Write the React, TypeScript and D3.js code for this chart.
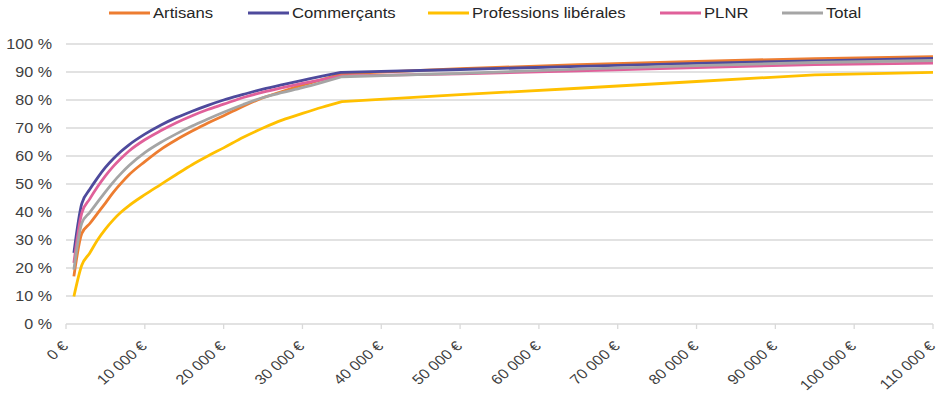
import * as d3 from "d3";

const revenus = [1000, 2000, 3000, 4000, 5000, 6000, 7000, 8000, 10000, 12000, 14000, 16000, 18000, 20000, 22500, 25000, 27500, 30000, 32500, 35000, 50000, 65000, 80000, 95000, 110000];

const artisans = [17.0, 32.3, 35.8, 39.5, 43.2, 47.0, 50.3, 53.3, 58.0, 62.3, 65.8, 68.9, 71.8, 74.4, 77.8, 80.8, 83.1, 85.3, 87.3, 89.3, 91.2, 92.6, 93.8, 94.8, 95.5];
const commercants = [25.4, 43.0, 48.0, 52.2, 55.9, 59.0, 61.7, 64.0, 67.8, 71.0, 73.7, 76.0, 78.1, 80.0, 82.0, 83.9, 85.5, 87.0, 88.5, 89.9, 90.9, 92.0, 93.1, 94.0, 94.9];
const liberales = [9.8, 21.0, 25.3, 30.0, 33.9, 37.2, 40.0, 42.3, 46.2, 49.8, 53.4, 56.9, 60.0, 62.9, 66.7, 70.0, 72.9, 75.2, 77.4, 79.4, 81.9, 84.2, 86.6, 89.0, 89.9];
const plnr = [21.8, 39.6, 44.6, 49.0, 52.9, 56.3, 59.2, 61.8, 65.8, 69.0, 71.9, 74.4, 76.6, 78.5, 80.9, 82.8, 84.4, 85.9, 87.3, 88.6, 89.3, 90.4, 91.6, 92.6, 93.2];
const total = [19.4, 36.0, 39.8, 43.5, 47.2, 50.7, 53.8, 56.6, 61.2, 64.8, 67.9, 70.7, 73.2, 75.6, 78.4, 80.9, 82.7, 84.4, 86.3, 88.3, 89.5, 91.0, 92.3, 93.4, 94.1];

const seriesNames = ["Artisans", "Commerçants", "Professions libérales", "PLNR", "Total"];
const seriesColors = ["#ED7D31", "#4E4A9C", "#FFC000", "#E0609A", "#A5A5A5"];
const seriesValues = [artisans, commercants, liberales, plnr, total];

const xTicks = [0, 10000, 20000, 30000, 40000, 50000, 60000, 70000, 80000, 90000, 100000, 110000];
const yTicks = [0, 10, 20, 30, 40, 50, 60, 70, 80, 90, 100];

const legendX = [109, 248, 428, 660, 782];

const W = 944;
const H = 397;
const margin = { top: 44, right: 11, bottom: 73, left: 66 };
const font = "'Liberation Sans', Arial, sans-serif";
const sx = 1.15; // the reference text is a bit wider than tall
const kinkIdx = 19; // 35 000 €: the curve turns sharply there

const fmtEuro = (v: number) => d3.format(",")(v).replace(/,/g, "\u00a0") + "\u00a0€";

export default function App() {
  const x = d3.scaleLinear().domain([0, 110000]).range([margin.left, W - margin.right]);
  const y = d3.scaleLinear().domain([0, 100]).range([H - margin.bottom, margin.top]);

  const pts = (vals: number[]) => vals.map((v, i) => [x(revenus[i]), y(v)] as [number, number]);
  const smooth = d3.line().curve(d3.curveMonotoneX);
  const straight = d3.line();

  // smooth up to the kink, straight segments after it
  const pathFor = (vals: number[]) => {
    const p = pts(vals);
    const a = smooth(p.slice(0, kinkIdx + 1)) || "";
    const b = straight(p.slice(kinkIdx)) || "";
    return a + b.replace(/^M/, "L");
  };

  return (
    <svg width={W} height={H} style={{ position: "absolute", left: 0, top: 0, background: "#fff" }} fontFamily={font}>
      {/* grid */}
      {yTicks.map(t => (
        <line key={t} x1={x(0)} x2={x(110000)} y1={y(t)} y2={y(t)} stroke="#d9d9d9" strokeWidth={1.3} />
      ))}
      {yTicks.map(t => (
        <text
          key={"l" + t}
          transform={`translate(52,${y(t)}) scale(${sx},1)`}
          dy="0.35em"
          textAnchor="end"
          fontSize={14}
          fill="#404040"
        >
          {t} %
        </text>
      ))}
      {/* x ticks */}
      {xTicks.map(t => (
        <line key={"t" + t} x1={x(t)} x2={x(t)} y1={y(0)} y2={y(0) + 5} stroke="#d9d9d9" strokeWidth={1.3} />
      ))}
      {xTicks.map(t => (
        <text
          key={"x" + t}
          transform={`translate(${x(t) + 3},${y(0) + 23}) scale(${sx},1) rotate(-45)`}
          textAnchor="end"
          fontSize={14}
          fill="#404040"
        >
          {fmtEuro(t)}
        </text>
      ))}
      {/* series */}
      {seriesValues.map((vals, i) => (
        <path
          key={seriesNames[i]}
          d={pathFor(vals)}
          fill="none"
          stroke={seriesColors[i]}
          strokeWidth={2.8}
          strokeLinejoin="round"
        />
      ))}
      {/* legend */}
      {seriesNames.map((n, i) => (
        <g key={"lg" + n} transform={`translate(${legendX[i]},13)`}>
          <line x1={0} x2={41} y1={0} y2={0} stroke={seriesColors[i]} strokeWidth={3} />
          <text transform={`translate(44,0) scale(${sx},1)`} dy="0.35em" fontSize={14.5} fill="#262626">
            {n}
          </text>
        </g>
      ))}
    </svg>
  );
}
